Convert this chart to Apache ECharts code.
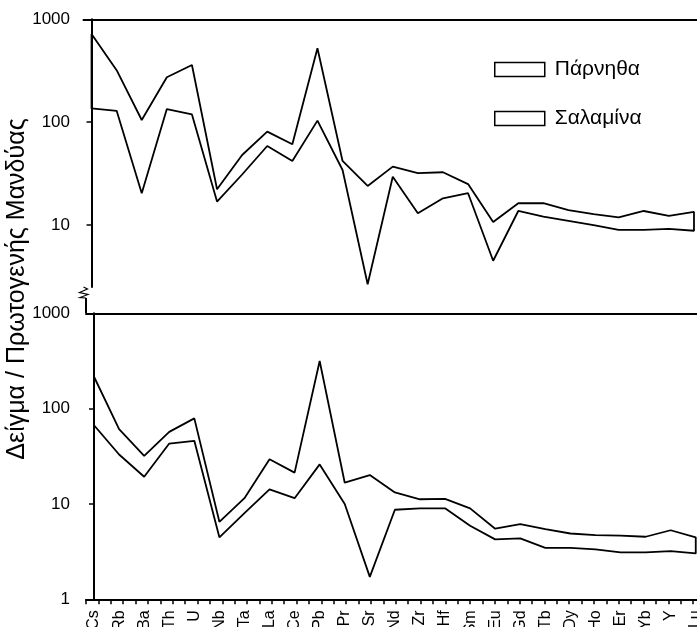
<!DOCTYPE html>
<html><head><meta charset="utf-8">
<script src="https://cdn.jsdelivr.net/npm/echarts@6/dist/echarts.min.js"></script>
<style>html,body{margin:0;padding:0;background:#fff}#c{width:697px;height:627px}</style>
</head><body><div id="c"></div>
<script>
const elements = ['Cs','Rb','Ba','Th','U','Nb','Ta','La','Ce','Pb','Pr','Sr','Nd','Zr','Hf','Sm','Eu','Gd','Tb','Dy','Ho','Er','Yb','Y','Lu'];
const parnithaUpper = [720, 320, 105, 273, 360, 22.3, 48, 81, 61, 523, 42, 24, 37, 32, 32.6, 25, 10.7, 16.3, 16.3, 14.0, 12.8, 11.9, 13.7, 12.3, 13.4];
const parnithaLower = [136, 129, 20.4, 134, 119, 16.9, 31, 58.7, 42, 103.5, 34.3, 2.66, 29.5, 13.0, 18.2, 20.4, 4.5, 13.7, 12.1, 11.0, 10.0, 8.96, 8.96, 9.2, 8.8];
const salaminaUpper = [216, 61, 32, 57, 79, 6.5, 11.5, 29.4, 21.3, 316, 16.7, 20.1, 13.2, 11.2, 11.3, 9.0, 5.5, 6.15, 5.45, 4.9, 4.72, 4.65, 4.53, 5.3, 4.47];
const salaminaLower = [67, 33, 19.3, 43, 46, 4.47, 8.0, 14.2, 11.5, 26, 10.0, 1.72, 8.7, 9.0, 9.0, 5.9, 4.25, 4.35, 3.47, 3.47, 3.34, 3.1, 3.1, 3.2, 3.03];
const seriesNames = ['Πάρνηθα', 'Σαλαμίνα'];
const yTitle = 'Δείγμα / Πρωτογενής Μανδύας';

function envelope(upper, lower) {
  const pts = [];
  upper.forEach((v, i) => pts.push([i, v]));
  for (let i = lower.length - 1; i >= 0; i--) pts.push([i, lower[i]]);
  pts.push([0, upper[0]]);
  return pts;
}

const FONT = '"Liberation Sans", Arial, sans-serif';
const BLACK = '#000';
const axisLine = { show: true, lineStyle: { color: BLACK, width: 2 } };
const XMIN = -0.32;
const catTicks = elements.map((_, i) => i);
const minorTicks = [];
for (let k = 0; k < 50; k++) minorTicks.push(XMIN + k * 0.4942);

const chart = echarts.init(document.getElementById('c'), null, { renderer: 'canvas' });
chart.setOption({
  animation: false,
  backgroundColor: '#fff',
  textStyle: { fontFamily: FONT, color: BLACK },
  grid: [
    { left: 83.5, top: 19.3, width: 613.5, height: 267.7, outerBoundsMode: 'none', containLabel: false },
    { left: 83.5, top: 19.3, width: 613.5, height: 205.7, outerBoundsMode: 'none', containLabel: false },
    { left: 86, top: 313.3, width: 611, height: 286, outerBoundsMode: 'none', containLabel: false }
  ],
  xAxis: [
    { gridIndex: 0, type: 'value', position: 'top', min: XMIN, max: 24.12, axisLine: axisLine,
      axisTick: { show: false }, axisLabel: { show: false }, splitLine: { show: false } },
    { gridIndex: 1, type: 'value', show: false, min: XMIN, max: 24.12 },
    { gridIndex: 2, type: 'value', position: 'bottom', min: XMIN, max: 24.05, axisLine: axisLine,
      axisTick: { show: true, customValues: minorTicks, length: 5, lineStyle: { color: BLACK, width: 1.5 } },
      axisLabel: { show: true, customValues: catTicks, rotate: 90, margin: 11, fontSize: 16, color: BLACK, fontFamily: FONT,
        formatter: v => elements[Math.round(v)] || '' },
      splitLine: { show: false } },
    { gridIndex: 2, type: 'value', position: 'top', min: XMIN, max: 24.05, axisLine: axisLine,
      axisTick: { show: false }, axisLabel: { show: false }, splitLine: { show: false } }
  ],
  yAxis: [
    { gridIndex: 0, type: 'log', logBase: 10, min: 2.5, max: 1000, axisLine: axisLine,
      axisTick: { show: false }, axisLabel: { show: false }, splitLine: { show: false } },
    { gridIndex: 1, type: 'log', logBase: 10, min: 10, max: 1000, axisLine: { show: false },
      axisTick: { show: true, length: 5, lineStyle: { color: BLACK, width: 1.5 } },
      axisLabel: { show: true, margin: 13.5, fontSize: 17, color: BLACK, fontFamily: FONT, formatter: v => String(v) },
      splitLine: { show: false } },
    { gridIndex: 2, type: 'log', logBase: 10, min: 1, max: 1000, axisLine: axisLine,
      axisTick: { show: true, length: 5, lineStyle: { color: BLACK, width: 1.5 } },
      axisLabel: { show: true, margin: 16, fontSize: 17, color: BLACK, fontFamily: FONT, formatter: v => String(v) },
      splitLine: { show: false } }
  ],
  legend: {
    orient: 'vertical', left: 494, top: 59, padding: 0, itemWidth: 50, itemHeight: 14, itemGap: 28,
    icon: 'rect',
    itemStyle: { color: '#fff', borderColor: BLACK, borderWidth: 1.5 },
    textStyle: { fontSize: 21, color: BLACK, fontFamily: FONT, lineHeight: 20, padding: [0, 0, 0, 5] },
    data: seriesNames
  },
  series: [
    { type: 'line', name: seriesNames[0], xAxisIndex: 0, yAxisIndex: 0, data: envelope(parnithaUpper, parnithaLower),
      symbol: 'none', showSymbol: false, lineStyle: { color: BLACK, width: 1.8 }, itemStyle: { color: BLACK } },
    { type: 'line', name: seriesNames[1], xAxisIndex: 2, yAxisIndex: 2, data: envelope(salaminaUpper, salaminaLower),
      symbol: 'none', showSymbol: false, lineStyle: { color: BLACK, width: 1.8 }, itemStyle: { color: BLACK } }
  ],
  graphic: [
    { type: 'text', x: 17, y: 289, rotation: Math.PI / 2,
      style: { text: yTitle, font: '25px ' + FONT, fontSize: 25, fontFamily: FONT, fill: BLACK,
        align: 'center', verticalAlign: 'middle', textAlign: 'center', textVerticalAlign: 'middle' } },
    { type: 'polyline', shape: { points: [[83.5, 287], [87.5, 289], [79.5, 292.5], [88, 294.5], [80, 297.5], [86, 298]] },
      style: { stroke: BLACK, lineWidth: 1.2, fill: null } },
    { type: 'line', shape: { x1: 86, y1: 298, x2: 86, y2: 313 }, style: { stroke: BLACK, lineWidth: 2 } }
  ]
});
</script>
</body></html>
